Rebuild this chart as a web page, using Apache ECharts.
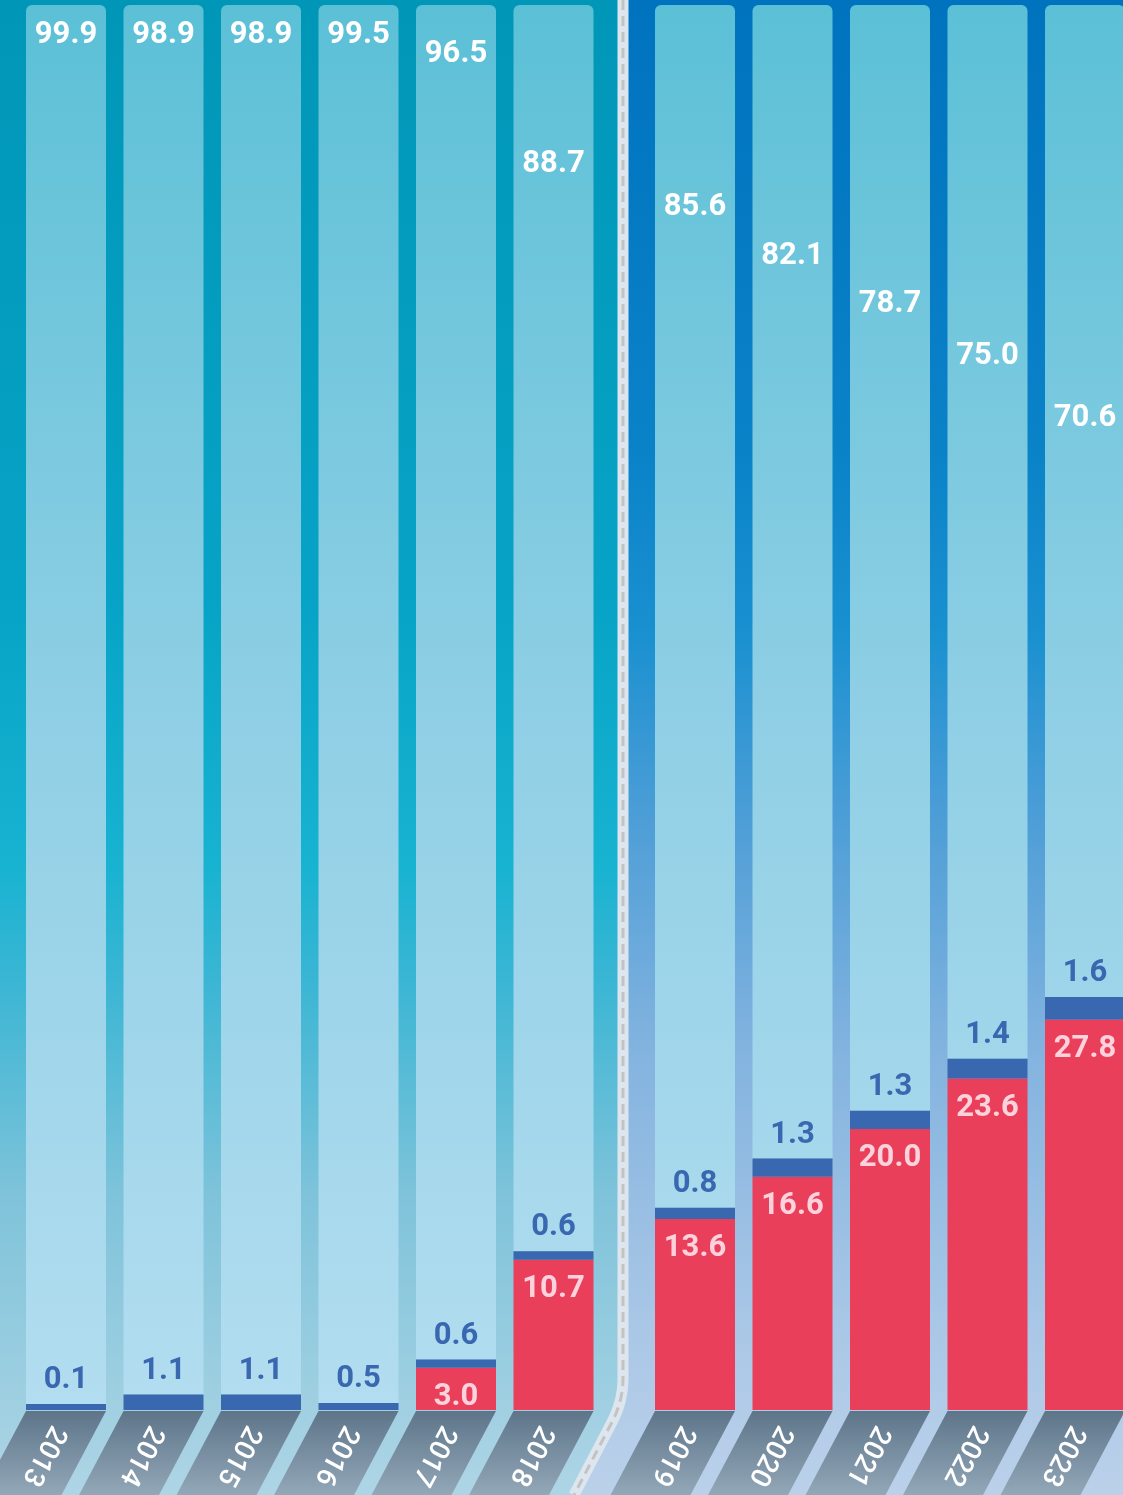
<!DOCTYPE html>
<html>
<head>
<meta charset="utf-8">
<style>
  html, body { margin: 0; padding: 0; background: #ffffff; }
  #chart { width: 1123px; height: 1495px; }
</style>
<script src="https://cdn.jsdelivr.net/npm/echarts@6/dist/echarts.min.js"></script>
</head>
<body>
<div id="chart"></div>
<script>
// ---- data ----
const yearsA = ['2013', '2014', '2015', '2016', '2017', '2018'];
const yearsB = ['2019', '2020', '2021', '2022', '2023'];
const redA   = [0, 0, 0, 0, 3.0, 10.7];
const blueA  = [0.1, 1.1, 1.1, 0.5, 0.6, 0.6];
const topA   = [99.9, 98.9, 98.9, 99.5, 96.5, 88.7];
const redB   = [13.6, 16.6, 20.0, 23.6, 27.8];
const blueB  = [0.8, 1.3, 1.3, 1.4, 1.6];
const topB   = [85.6, 82.1, 78.7, 75.0, 70.6];

// ---- layout ----
const W = 1123, H = 1495;
const GRID_TOP = 5, GRID_H = 1405;
const BAR_W = 80, BAND = 97.5;
const STRIP_H = 85, SLANT = 45;
const FONT = 'Roboto';

const chart = echarts.init(document.getElementById('chart'), null, { renderer: 'canvas' });

const topGradient = {
  type: 'linear', x: 0, y: GRID_TOP, x2: 0, y2: GRID_TOP + GRID_H, global: true,
  colorStops: [
    { offset: 0, color: '#5bc0d6' },
    { offset: 0.5, color: '#8fcfe5' },
    { offset: 1, color: '#b3ddf0' }
  ]
};

function fmt(v) { return (v == null || v === 0) ? '' : Number(v).toFixed(1); }

function makeSeries(gridIdx, years, red, blue, top) {
  const stack = 's' + gridIdx;
  return [
    {
      type: 'bar', xAxisIndex: gridIdx, yAxisIndex: gridIdx, stack, barWidth: BAR_W, z: 2, clip: false,
      data: red,
      itemStyle: { color: '#e93f5b' },
      label: {
        show: true, position: 'insideTop', distance: 14,
        color: '#fcd3dc', fontFamily: FONT, fontWeight: 'bold', fontSize: 31,
        formatter: p => fmt(p.value)
      }
    },
    {
      type: 'bar', xAxisIndex: gridIdx, yAxisIndex: gridIdx, stack, barWidth: BAR_W, z: 4, clip: false,
      data: blue, barMinHeight: 6,
      itemStyle: { color: '#3a68b0' },
      label: {
        show: true, position: 'top', distance: 8,
        color: '#3a68b0', fontFamily: FONT, fontWeight: 'bold', fontSize: 31,
        formatter: p => fmt(p.value)
      }
    },
    {
      type: 'bar', xAxisIndex: gridIdx, yAxisIndex: gridIdx, stack, barWidth: BAR_W, z: 3, clip: true,
      data: top.map(v => ({
        value: v,
        label: { position: [BAR_W / 2, Math.max(30, (100 - v) * GRID_H / 100)] }
      })),
      itemStyle: { color: topGradient, borderRadius: [6, 6, 0, 0] },
      label: {
        show: true, align: 'center', verticalAlign: 'middle',
        color: '#ffffff', fontFamily: FONT, fontWeight: 'bold', fontSize: 31,
        formatter: p => fmt(p.value)
      }
    },
    {
      type: 'custom', xAxisIndex: gridIdx, yAxisIndex: gridIdx, z: 5, clip: false,
      data: years.map(y => [y]),
      encode: { x: 0 },
      renderItem: function (params, api) {
        const p = api.coord([api.value(0), 0]);
        const cx = p[0], y0 = p[1] + 1;
        const hw = BAR_W / 2;
        return {
          type: 'group',
          children: [
            {
              type: 'polygon',
              shape: { points: [[cx - hw, y0], [cx + hw, y0], [cx + hw - SLANT, y0 + STRIP_H], [cx - hw - SLANT, y0 + STRIP_H]] },
              style: {
                fill: {
                  type: 'linear', x: 0, y: 0, x2: 0, y2: 1,
                  colorStops: [{ offset: 0, color: '#5e7489' }, { offset: 1, color: '#93a9b9' }]
                }
              }
            },
            {
              type: 'text',
              x: cx - SLANT / 2, y: y0 + STRIP_H / 2 + 2,
              rotation: -118 * Math.PI / 180,
              style: {
                text: years[params.dataIndex],
                fill: '#ffffff', fontFamily: FONT, fontSize: 28, fontWeight: 500,
                align: 'center', verticalAlign: 'middle'
              }
            }
          ]
        };
      }
    }
  ];
}

const axisHidden = { axisLine: { show: false }, axisTick: { show: false }, axisLabel: { show: false }, splitLine: { show: false } };

const leftGradient = {
  type: 'linear', x: 0, y: 0, x2: 0, y2: H, global: true,
  colorStops: [
    { offset: 0, color: '#0096b8' },
    { offset: 0.4, color: '#07a3c6' },
    { offset: 0.58, color: '#18b3d1' },
    { offset: 0.66, color: '#3cb6d4' },
    { offset: 0.8, color: '#7fc3da' },
    { offset: 1, color: '#aed5e5' }
  ]
};
const rightGradient = {
  type: 'linear', x: 0, y: 0, x2: 0, y2: H, global: true,
  colorStops: [
    { offset: 0, color: '#0073bf' },
    { offset: 0.3, color: '#0a82c8' },
    { offset: 0.42, color: '#1890d0' },
    { offset: 0.55, color: '#4e9ed7' },
    { offset: 0.7, color: '#82b3df' },
    { offset: 0.88, color: '#a8c6e6' },
    { offset: 1, color: '#bbd1ea' }
  ]
};

// divider line: straight down, then a quadratic bend, then slanted to the bottom edge
const divPts = [[623, 0], [623, 1378]];
(function () {
  const p0 = [623, 1378], c = [623, 1402], p1 = [611, 1424];
  for (let i = 1; i <= 12; i++) {
    const t = i / 12, u = 1 - t;
    divPts.push([u * u * p0[0] + 2 * u * t * c[0] + t * t * p1[0], u * u * p0[1] + 2 * u * t * c[1] + t * t * p1[1]]);
  }
  divPts.push([574, 1495]);
})();
const rightPanelPts = divPts.concat([[W, H], [W, 0]]);

const option = {
  animation: false,
  backgroundColor: '#ffffff',
  graphic: [
    { type: 'rect', z: -10, shape: { x: 0, y: 0, width: 624, height: H }, style: { fill: leftGradient } },
    { type: 'polygon', z: -9, shape: { points: rightPanelPts }, style: { fill: rightGradient } },
    { type: 'polyline', z: -8, shape: { points: divPts }, style: { fill: null, stroke: '#dde6ee', lineWidth: 11 } },
    { type: 'polyline', z: -7, shape: { points: divPts }, style: { fill: null, stroke: '#c3c3c3', lineWidth: 3, lineDash: [10, 6] } }
  ],
  // category ticks sit on the bar centres (boundaryGap: false), one band = 97.5 px
  grid: [
    { left: 66, width: BAND * (yearsA.length - 1), top: GRID_TOP, height: GRID_H },
    { left: 695, width: BAND * (yearsB.length - 1), top: GRID_TOP, height: GRID_H }
  ],
  xAxis: [
    Object.assign({ type: 'category', gridIndex: 0, data: yearsA, boundaryGap: false }, axisHidden),
    Object.assign({ type: 'category', gridIndex: 1, data: yearsB, boundaryGap: false }, axisHidden)
  ],
  yAxis: [
    Object.assign({ type: 'value', gridIndex: 0, min: 0, max: 100 }, axisHidden),
    Object.assign({ type: 'value', gridIndex: 1, min: 0, max: 100 }, axisHidden)
  ],
  series: [].concat(
    makeSeries(0, yearsA, redA, blueA, topA),
    makeSeries(1, yearsB, redB, blueB, topB)
  )
};

chart.setOption(option);
</script>
</body>
</html>
